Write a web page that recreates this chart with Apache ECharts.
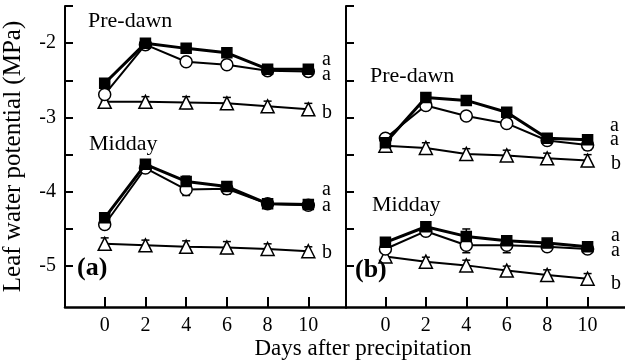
<!DOCTYPE html>
<html>
<head>
<meta charset="utf-8">
<script src="https://cdn.jsdelivr.net/npm/echarts@6/dist/echarts.min.js"></script>
<style>
  html, body { margin: 0; padding: 0; background: #fff; }
  #chart { width: 625px; height: 363px; }
</style>
</head>
<body>
<div id="chart"></div>
<script>
// Days after the rain event
const days = [0, 2, 4, 6, 8, 10];

// Tick values (MPa)
const yTicks = [-5, -4.5, -4, -3.5, -3, -2.5, -2, -1.5];
const yTickLabels = [-5, -4, -3, -2];

// Panel (a) leaf water potential, MPa
const aPreSquare   = [-2.54, -2.00, -2.07, -2.13, -2.35, -2.35];
const aPreCircle   = [-2.69, -2.02, -2.25, -2.29, -2.37, -2.38];
const aPreTriangle = [-2.79, -2.79, -2.80, -2.81, -2.85, -2.89];
const aMidSquare   = [-4.35, -3.63, -3.86, -3.93, -4.16, -4.17];
const aMidCircle   = [-4.44, -3.68, -3.97, -3.96, -4.16, -4.18];
const aMidTriangle = [-4.70, -4.72, -4.74, -4.75, -4.77, -4.80];

// Panel (b) leaf water potential, MPa
const bPreSquare   = [-3.34, -2.73, -2.77, -2.93, -3.28, -3.30];
const bPreCircle   = [-3.28, -2.84, -2.98, -3.08, -3.31, -3.37];
const bPreTriangle = [-3.38, -3.41, -3.49, -3.51, -3.55, -3.58];
const bMidSquare   = [-4.68, -4.47, -4.60, -4.66, -4.69, -4.74];
const bMidCircle   = [-4.77, -4.53, -4.72, -4.72, -4.74, -4.77];
const bMidTriangle = [-4.87, -4.94, -4.99, -5.06, -5.12, -5.17];

// Standard errors, MPa
const aPreSquareErr   = [0.04, 0.03, 0.04, 0.04, 0.04, 0.04];
const aPreCircleErr   = [0.09, 0.04, 0.05, 0.06, 0.04, 0.05];
const aPreTriangleErr = [0.08, 0.07, 0.08, 0.08, 0.07, 0.08];
const aMidSquareErr   = [0.05, 0.04, 0.07, 0.05, 0.04, 0.04];
const aMidCircleErr   = [0.06, 0.05, 0.08, 0.07, 0.05, 0.05];
const aMidTriangleErr = [0.08, 0.07, 0.08, 0.08, 0.07, 0.06];
const bPreSquareErr   = [0.05, 0.04, 0.04, 0.04, 0.04, 0.04];
const bPreCircleErr   = [0.06, 0.06, 0.05, 0.06, 0.05, 0.07];
const bPreTriangleErr = [0.07, 0.07, 0.07, 0.07, 0.07, 0.08];
const bMidSquareErr   = [0.05, 0.04, 0.10, 0.05, 0.04, 0.04];
const bMidCircleErr   = [0.05, 0.06, 0.10, 0.10, 0.05, 0.05];
const bMidTriangleErr = [0.07, 0.06, 0.07, 0.06, 0.07, 0.07];

const FONT = "'Liberation Serif', 'DejaVu Serif', serif";

const chart = echarts.init(document.getElementById('chart'), null, { renderer: 'canvas' });

function xAxisFor(gi) {
  return {
    type: 'value', gridIndex: gi, min: -1.95, max: 11.85,
    axisLine: { show: true, onZero: false, lineStyle: { color: '#000', width: 2.5 } },
    axisTick: { show: true, inside: true, length: 10, customValues: days, lineStyle: { color: '#000', width: 2 } },
    axisLabel: { customValues: days, color: '#000', fontFamily: FONT, fontSize: 20, margin: 9 },
    splitLine: { show: false }
  };
}

function yAxisFor(gi, labelled) {
  const ax = {
    type: 'value', gridIndex: gi, min: -5.55, max: -1.5,
    axisLine: { show: true, onZero: false, lineStyle: { color: '#000', width: 2 } },
    axisTick: { show: true, inside: true, length: 8, customValues: yTicks, lineStyle: { color: '#000', width: 2 } },
    axisLabel: { show: labelled, customValues: yTickLabels, color: '#000', fontFamily: FONT, fontSize: 20, margin: 9 },
    splitLine: { show: false }
  };
  if (labelled) {
    ax.name = 'Leaf water potential (MPa)';
    ax.nameLocation = 'middle';
    ax.nameGap = 39;
    ax.nameTextStyle = { color: '#000', fontFamily: FONT, fontSize: 25 };
  }
  return ax;
}

const markerStyles = {
  square:   { symbol: 'rect',     symbolSize: 10, fill: '#000', lineWidth: 3, z: 5 },
  circle:   { symbol: 'circle',   symbolSize: 12, fill: '#fff', lineWidth: 2, z: 4 },
  triangle: { symbol: 'triangle', symbolSize: 13, fill: '#fff', lineWidth: 2, z: 3 }
};

function lineSeries(gi, kind, values) {
  const m = markerStyles[kind];
  return {
    type: 'line', xAxisIndex: gi, yAxisIndex: gi,
    data: days.map((d, i) => [d, values[i]]),
    symbol: m.symbol, symbolSize: m.symbolSize, showAllSymbol: true,
    lineStyle: { color: '#000', width: m.lineWidth },
    itemStyle: { color: m.fill, borderColor: '#000', borderWidth: 1.5 },
    z: m.z, animation: false, silent: true
  };
}

function errorSeries(gi, values, errs) {
  return {
    type: 'custom', xAxisIndex: gi, yAxisIndex: gi,
    data: days.map((d, i) => [d, values[i], errs[i]]),
    renderItem: function (params, api) {
      const x = api.value(0), v = api.value(1), e = api.value(2);
      const hi = api.coord([x, v + e]);
      const lo = api.coord([x, v - e]);
      const cw = 4;
      const st = { stroke: '#000', lineWidth: 1.5 };
      return {
        type: 'group',
        children: [
          { type: 'line', shape: { x1: hi[0], y1: hi[1], x2: lo[0], y2: lo[1] }, style: st },
          { type: 'line', shape: { x1: hi[0] - cw, y1: hi[1], x2: hi[0] + cw, y2: hi[1] }, style: st },
          { type: 'line', shape: { x1: lo[0] - cw, y1: lo[1], x2: lo[0] + cw, y2: lo[1] }, style: st }
        ]
      };
    },
    z: 2, animation: false, silent: true
  };
}

const panels = [
  { gi: 0, sets: [
    ['triangle', aPreTriangle, aPreTriangleErr], ['circle', aPreCircle, aPreCircleErr], ['square', aPreSquare, aPreSquareErr],
    ['triangle', aMidTriangle, aMidTriangleErr], ['circle', aMidCircle, aMidCircleErr], ['square', aMidSquare, aMidSquareErr]
  ]},
  { gi: 1, sets: [
    ['triangle', bPreTriangle, bPreTriangleErr], ['circle', bPreCircle, bPreCircleErr], ['square', bPreSquare, bPreSquareErr],
    ['triangle', bMidTriangle, bMidTriangleErr], ['circle', bMidCircle, bMidCircleErr], ['square', bMidSquare, bMidSquareErr]
  ]}
];

const series = [];
panels.forEach(p => {
  p.sets.forEach(([kind, vals, errs]) => {
    series.push(errorSeries(p.gi, vals, errs));
    series.push(lineSeries(p.gi, kind, vals));
  });
});

function txt(x, y, s, size, extra) {
  return {
    type: 'text', x: x, y: y, silent: true, z: 10,
    style: Object.assign({ text: s, fill: '#000', font: size + 'px ' + FONT, verticalAlign: 'middle', align: 'left' }, extra || {})
  };
}

chart.setOption({
  backgroundColor: '#fff',
  animation: false,
  grid: [
    { left: 64, top: 6, width: 282, height: 301 },
    { left: 346, top: 6, width: 282, height: 301 }
  ],
  xAxis: [xAxisFor(0), xAxisFor(1)],
  yAxis: [yAxisFor(0, true), yAxisFor(1, false)],
  series: series,
  graphic: [
    txt(88, 21, 'Pre-dawn', 22),
    txt(89, 144, 'Midday', 22),
    txt(370, 76, 'Pre-dawn', 22),
    txt(372, 205, 'Midday', 22),
    { type: 'text', x: 77, y: 268, silent: true, z: 10,
      style: { text: '(a)', fill: '#000', font: 'bold 26px ' + FONT, verticalAlign: 'middle' } },
    { type: 'text', x: 355, y: 270, silent: true, z: 10,
      style: { text: '(b)', fill: '#000', font: 'bold 26px ' + FONT, verticalAlign: 'middle' } },
    txt(322, 60, 'a', 20), txt(322, 75, 'a', 20), txt(322, 113, 'b', 20),
    txt(322, 190, 'a', 20), txt(322, 206, 'a', 20), txt(322, 253, 'b', 20),
    txt(610, 126, 'a', 20), txt(610, 140, 'a', 20), txt(611, 164, 'b', 20),
    txt(611, 236, 'a', 20), txt(611, 251, 'a', 20), txt(611, 284, 'b', 20),
    txt(363, 349, 'Days after precipitation', 23, { align: 'center' })
  ]
});
</script>
</body>
</html>
